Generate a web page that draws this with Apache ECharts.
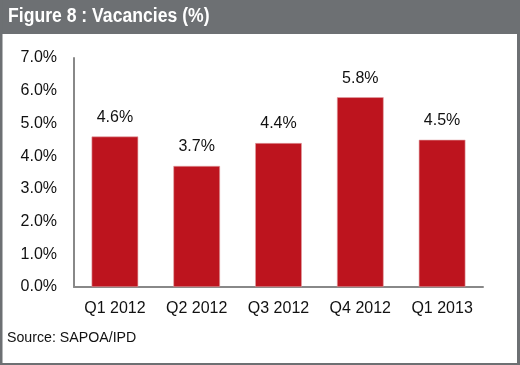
<!DOCTYPE html>
<html><head><meta charset="utf-8">
<script src="https://cdn.jsdelivr.net/npm/echarts@6/dist/echarts.min.js"></script>
<style>html,body{margin:0;padding:0;background:#fff}#c{width:520px;height:365px}</style>
</head><body><div id="c"></div>
<script>
var titleText = 'Figure 8 : Vacancies (%)';
var sourceText = 'Source: SAPOA/IPD';
var categories = ['Q1 2012', 'Q2 2012', 'Q3 2012', 'Q4 2012', 'Q1 2013'];
var vacancies = [4.6, 3.7, 4.4, 5.8, 4.5];
var yMin = 0, yMax = 7, yStep = 1;

var chart = echarts.init(document.getElementById('c'), null, {renderer: 'canvas'});
var gray = '#6d7073';
var font = '"Liberation Sans", Arial, sans-serif';
chart.setOption({
  animation: false,
  backgroundColor: '#fff',
  graphic: [
    {type: 'rect', shape: {x: 0, y: 0, width: 520, height: 34}, style: {fill: gray}, silent: true},
    {type: 'rect', shape: {x: 0, y: 0, width: 2.5, height: 365}, style: {fill: gray}, silent: true},
    {type: 'rect', shape: {x: 517, y: 0, width: 3, height: 365}, style: {fill: gray}, silent: true},
    {type: 'rect', shape: {x: 0, y: 363, width: 520, height: 2}, style: {fill: gray}, silent: true},
    {type: 'text', x: 8, y: 6, scaleX: 0.88, originX: 0, originY: 0,
      style: {text: titleText, x: 0, y: 0, verticalAlign: 'top', fill: '#fff', font: 'bold 20px ' + font}, silent: true},
    {type: 'text', left: 7, top: 331, style: {text: sourceText, fill: '#111', font: '14.2px ' + font}, silent: true}
  ],
  grid: {left: 74, right: 37, top: 58, bottom: 78, containLabel: false},
  xAxis: {
    type: 'category', data: categories,
    axisLine: {lineStyle: {color: '#888', width: 2}},
    axisTick: {show: false},
    axisLabel: {color: '#111', fontSize: 16, fontFamily: font, margin: 14}
  },
  yAxis: {
    type: 'value', min: yMin, max: yMax, interval: yStep,
    axisLine: {show: true, lineStyle: {color: '#888', width: 2}},
    axisTick: {show: false},
    splitLine: {show: false},
    axisLabel: {color: '#111', fontSize: 16, fontFamily: font, margin: 17,
      formatter: function (v) { return v.toFixed(1) + '%'; }}
  },
  series: [{
    type: 'bar', data: vacancies, barWidth: '57%',
    itemStyle: {color: '#BD141E', borderColor: '#e3a3a6', borderWidth: 0.6},
    label: {show: true, position: 'top', distance: 11, color: '#111', fontSize: 16, fontFamily: font,
      formatter: function (p) { return p.value.toFixed(1) + '%'; }}
  }]
});
</script></body></html>
